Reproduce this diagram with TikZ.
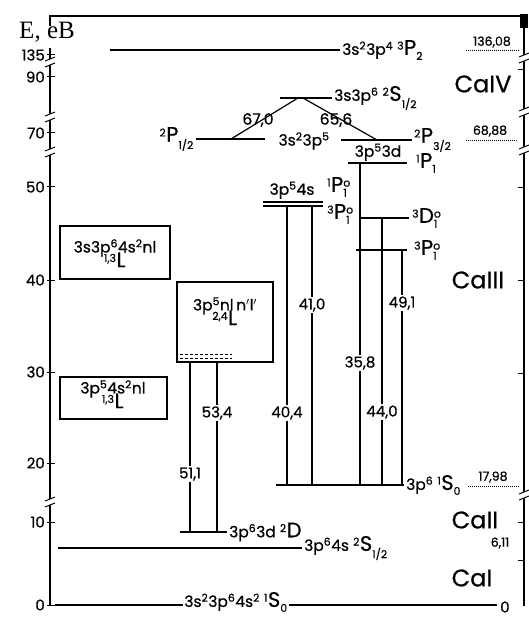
\documentclass[tikz,border=0pt]{standalone}
\usepackage{amsmath}
\usepackage{fontspec}
\setmainfont{Poppins}[FakeBold=0.6]
\newfontfamily\serifE{Liberation Serif}
\usetikzlibrary{positioning}

\newcommand{\term}[4]{\textsuperscript{#1}{\fontsize{21}{21}\selectfont #2}$^{\text{#4}}_{\text{#3}}$}

\begin{document}
\begin{tikzpicture}[x=1pt,y=-1pt,
lvl/.style={line width=1.7pt},
trans/.style={line width=1.2pt},
txt/.style={font=\fontsize{15.5}{17}\selectfont,inner sep=1pt},
num/.style={font=\fontsize{15}{17}\selectfont,fill=white,inner sep=1.5pt},
ion/.style={font=\fontsize{24}{26}\selectfont},
tick/.style={font=\fontsize{15}{17}\selectfont,anchor=east,inner sep=1pt},
small/.style={font=\fontsize{12.5}{14}\selectfont,inner sep=1pt},
boxed/.style={draw,line width=1.1pt} ]

\useasboundingbox (0,0) rectangle (528,617);

% frame and energy axes
\coordinate (tr) at (524,16);
\coordinate (br) at (524,606);
\coordinate (bl) at (50,606);
\draw[line width=2.5pt] (50,26) |- (tr);
\fill (520,14) rectangle (528,28);
\draw[line width=1.2pt] (tr) -- (br);
\draw[line width=1.2pt] (50,48) -- (bl);
\foreach \y in {62,117,152,502} {
  \fill[white] (45,\y-3) rectangle (55,\y+3);
  \draw[line width=1pt] (45,\y-1) -- (55,\y-5);
  \draw[line width=1pt] (45,\y+5) -- (55,\y+1);
}
\foreach \y/\v in {55/135,77/90,133/70,187/50,280/40,372/30,463/20,522/10,605/0} {
  \draw[line width=1pt] (47,\y) -- (55,\y);
  \node[tick] (ax\v) at (46,\y) {\v};
}
\foreach \y in {58,112,150,495} {
  \fill[white] (519,\y-3) rectangle (529,\y+3);
  \draw[line width=1pt] (519,\y-1) -- (529,\y-5);
  \draw[line width=1pt] (519,\y+5) -- (529,\y+1);
}
\foreach \y in {70,188,280,373,522,560} \draw[line width=1pt] (518,\y) -- (524,\y);
\node[font=\serifE\fontsize{25}{27}\selectfont,inner sep=0pt] (elab) at (47,32) {E, eB};

% Ca IV
\coordinate (p2a) at (110,50);
\coordinate (p2b) at (340,50);
\draw[lvl] (p2a) -- (p2b);
\node[txt,right=1pt of p2b] (p2) {3s\textsuperscript{2}3p\textsuperscript{4} \term{3}{P}{2}{}};
\node[small] (e136) at (492,42) {136,08};
\draw[densely dotted,line width=1pt] (466,51) -- (520,51);

\coordinate (s12a) at (280,98);
\coordinate (s12b) at (332,98);
\draw[lvl] (s12a) -- (s12b);
\node[txt,right=1pt of s12b] (s12) {3s3p\textsuperscript{6} \term{2}{S}{1/2}{}};
\node[ion] (ca4) at (483,84) {CaIV};

\coordinate (p12a) at (196,139);
\coordinate (p12b) at (265,139);
\draw[lvl] (p12a) -- (p12b);
\node[txt,left=1pt of p12a] (p12) {\term{2}{P}{1/2}{}};
\node[txt] (cfg35) at (304,141) {3s\textsuperscript{2}3p\textsuperscript{5}};
\coordinate (p32a) at (341,140);
\coordinate (p32b) at (412,140);
\draw[lvl] (p32a) -- (p32b);
\node[txt,right=1pt of p32b] (p32) {\term{2}{P}{3/2}{}};
\node[small] (e68) at (490,131) {68,88};
\draw[densely dotted,line width=1pt] (466,141) -- (518,141);

% decay of 3s3p6
\coordinate (dl) at (298,98);
\coordinate (dlb) at (231,139);
\coordinate (dr) at (303,98);
\coordinate (drb) at (377,140);
\draw[trans] (dl) -- (dlb);
\draw[trans] (dr) -- (drb);
\node[txt] (a670) at (258,120) {67,0};
\node[txt] (a656) at (336,120) {65,6};

% Ca III
\coordinate (d1a) at (348,163);
\coordinate (d1b) at (407,163);
\draw[lvl] (d1a) -- (d1b);
\node[txt,anchor=south] (cfg3d) at (378,162) {3p\textsuperscript{5}3d};
\node[txt,right=8pt of d1b] (p1d) {\term{1}{P}{1}{}};

\node[txt,anchor=south] (cfg4s) at (292,200) {3p\textsuperscript{5}4s};
\coordinate (s4a) at (263,202);
\coordinate (s4b) at (323,202);
\coordinate (t4a) at (263,206);
\coordinate (t4b) at (323,206);
\draw[lvl] (s4a) -- (s4b);
\draw[lvl] (t4a) -- (t4b);
\node[txt,anchor=west] (p1o) at (326,187) {\term{1}{P}{1}{o}};
\node[txt,anchor=west] (p3o) at (326,214) {\term{3}{P}{1}{o}};

\coordinate (d3a) at (361,218);
\coordinate (d3b) at (409,218);
\draw[lvl] (d3a) -- (d3b);
\node[txt,right=2pt of d3b] (d3) {\term{3}{D}{1}{o}};
\coordinate (pp3a) at (356,250);
\coordinate (pp3b) at (407,250);
\draw[lvl] (pp3a) -- (pp3b);
\node[txt,right=6pt of pp3b] (pp3) {\term{3}{P}{1}{o}};
\node[ion] (ca3) at (478,280) {CaIII};

\coordinate (g2a) at (276,485);
\coordinate (g2b) at (404,485);
\draw[lvl] (g2a) -- (g2b);
\node[txt,right=1pt of g2b] (g2) {3p\textsuperscript{6} \term{1}{S}{0}{}};
\node[small] (e17) at (493,477) {17,98};
\draw[densely dotted,line width=1pt] (468,486) -- (520,486);

% transitions into Ca II ground
\coordinate (u1) at (287,206);
\coordinate (w1) at (287,485);
\coordinate (u2) at (312,206);
\coordinate (w2) at (312,485);
\coordinate (u3) at (360,163);
\coordinate (w3) at (360,485);
\coordinate (u4) at (382,218);
\coordinate (w4) at (382,485);
\coordinate (u5) at (402,250);
\coordinate (w5) at (402,485);
\draw[trans] (u1) -- node[num,pos=0.742] (n404) {40,4} (w1);
\draw[trans] (u2) -- node[num,pos=0.355] (n410) {41,0} (w2);
\draw[trans] (u3) -- node[num,pos=0.621] (n358) {35,8} (w3);
\draw[trans] (u4) -- node[num,pos=0.727] (n440) {44,0} (w4);
\draw[trans] (u5) -- node[num,pos=0.226] (n491) {49,1} (w5);

% autoionizing configurations
\draw[boxed] (60,226) rectangle (170,279);
\node[txt,align=center] (bx1) at (115,255) {3s3p\textsuperscript{6}4s\textsuperscript{2}nl\\[-5pt]\term{1,3}{L}{}{}};
\draw[boxed] (177,282) rectangle (273,362);
\node[txt,align=center] (bx2) at (225,313) {3p\textsuperscript{5}nl\,n$'$l$'$\\[-5pt]\term{2,4}{L}{}{}};
\draw[densely dashed,line width=1pt] (180,354) -- (232,354);
\draw[densely dashed,line width=1pt] (180,358) -- (232,358);
\draw[boxed] (60,377) rectangle (167,419);
\node[txt,align=center] (bx3) at (113,396) {3p\textsuperscript{5}4s\textsuperscript{2}nl\\[-5pt]\term{1,3}{L}{}{}};

% Ca II
\coordinate (b2l) at (190,362);
\coordinate (b2r) at (217,362);
\coordinate (dDl) at (190,532);
\coordinate (dDr) at (217,532);
\coordinate (dDa) at (180,532);
\coordinate (dDb) at (227,532);
\draw[lvl] (dDa) -- (dDb);
\node[txt,right=1pt of dDb] (dD) {3p\textsuperscript{6}3d \term{2}{D}{}{}};
\draw[trans] (b2l) -- node[num,pos=0.659] (n511) {51,1} (dDl);
\draw[trans] (b2r) -- node[num,pos=0.3] (n534) {53,4} (dDr);
\node[ion] (ca2) at (475,520) {CaII};
\node[small] (e611) at (500,543) {6,11};

\coordinate (s2a) at (58,548);
\coordinate (s2b) at (302,548);
\draw[lvl] (s2a) -- (s2b);
\node[txt,right=1pt of s2b] (s2) {3p\textsuperscript{6}4s \term{2}{S}{1/2}{}};

% Ca I
\node[ion] (ca1) at (472,578) {CaI};
\coordinate (g0a) at (55,605);
\coordinate (g0b) at (497,605);
\node[txt] (gs) at (236,602) {3s\textsuperscript{2}3p\textsuperscript{6}4s\textsuperscript{2} \term{1}{S}{0}{}};
\draw[lvl] (g0a) -- (g0a -| gs.west);
\draw[lvl] (g0b -| gs.east) -- (g0b);
\node[tick,anchor=west] (z0) at (499,607) {0};

\end{tikzpicture}
\end{document}
